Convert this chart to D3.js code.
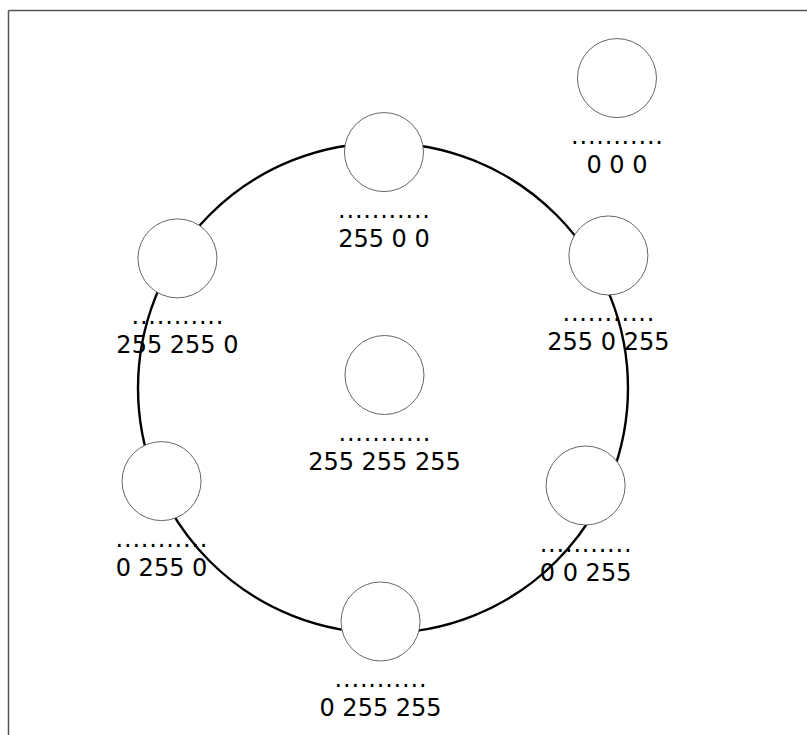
<!DOCTYPE html>
<html>
<head>
    <meta charset="utf-8">
    <title>Colour nodes</title>
    <style>
        body { margin: 0; background: #fff; }
        svg { display: block; }
        text { font-family: "DejaVu Sans", sans-serif; font-size: 24px; fill: #000; }
        text.dots { letter-spacing: 0.8px; }
    </style>
</head>
<script src="https://d3js.org/d3.v7.js"></script>

<body>
    <div id="chart"></div>
</body>

<script>

// node labels (rgb values) and their positions, in ring units (ring radius = 100)
var labels = ["255 0 0", "0 0 0", "255 0 255", "255 255 0", "255 255 255", "0 255 0", "0 0 255", "0 255 255"];
var nodeX = [0.4, 95.5, 92.0, -83.9, 0.6, -90.4, 82.7, -1.0];
var nodeY = [-96.3, -126.5, -54.1, -52.9, -5.3, 38.0, 39.8, 95.3];
var ringRadius = 100;

var width = 807, height = 735;

var svg = d3.select('#chart').append('svg')
    .attr('width', width)
    .attr('height', height);

// frame (only top and left edges show)
svg.append('line')
    .attr('x1', 8.5).attr('y1', 10.5).attr('x2', width).attr('y2', 10.5)
    .attr('stroke', '#555').attr('stroke-width', 1.5);
svg.append('line')
    .attr('x1', 8.5).attr('y1', 10.5).attr('x2', 8.5).attr('y2', height)
    .attr('stroke', '#555').attr('stroke-width', 1.5);

var x = d3.scaleLinear().domain([-100, 100]).range([138, 628]);
var y = d3.scaleLinear().domain([-100, 100]).range([143, 633]);

var nodes = labels.map(function(l, i) {
    return { label: l, x: nodeX[i], y: nodeY[i] };
});

// labels first, ring over them
var lab = svg.append('g').selectAll('g')
    .data(nodes)
    .enter().append('g')
    .attr('transform', d => 'translate(' + x(d.x) + ',' + y(d.y) + ')');

lab.append('text')
    .attr('class', 'dots')
    .attr('text-anchor', 'middle')
    .attr('x', 0.4)
    .attr('y', 66)
    .text('...........');

lab.append('text')
    .attr('text-anchor', 'middle')
    .attr('y', 95)
    .text(d => d.label);

// big ring
svg.append('circle')
    .attr('cx', x(0))
    .attr('cy', y(0))
    .attr('r', x(ringRadius) - x(0))
    .attr('fill', 'none')
    .attr('stroke', '#000')
    .attr('stroke-width', 2.4);

// node circles
svg.append('g').selectAll('circle')
    .data(nodes)
    .enter().append('circle')
    .attr('cx', d => x(d.x))
    .attr('cy', d => y(d.y))
    .attr('r', 39.5)
    .attr('fill', '#fff')
    .attr('stroke', '#666')
    .attr('stroke-width', 1);

</script>
</html>
